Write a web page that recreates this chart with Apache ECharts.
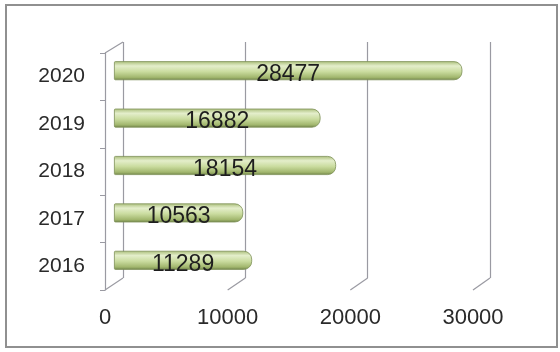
<!DOCTYPE html>
<html>
<head>
<meta charset="utf-8">
<script src="https://cdn.jsdelivr.net/npm/echarts@6/dist/echarts.min.js"></script>
<style>
  html, body { margin: 0; padding: 0; background: #fff; }
  #chart { width: 560px; height: 352px; }
</style>
</head>
<body>
<div id="chart"></div>
<script>
// data
const years = ['2016', '2017', '2018', '2019', '2020'];
const values = [11289, 10563, 18154, 16882, 28477];
const xTicks = [0, 10000, 20000, 30000];

const font = '"Liberation Sans", Arial, sans-serif';
const lineColor = '#9a9aa2';

const chart = echarts.init(document.getElementById('chart'));

// three grids fake the 3D depth: front plane (labels), middle (bars), back wall (gridlines)
const option = {
  backgroundColor: '#fff',
  animation: false,
  textStyle: { fontFamily: font },
  grid: [
    { left: 105, top: 53, width: 368, height: 237 },
    { left: 114, top: 47, width: 367, height: 237 },
    { left: 123, top: 42, width: 367, height: 236 }
  ],
  xAxis: [
    {
      gridIndex: 0, type: 'value', min: 0, max: 30000, interval: 10000,
      axisLine: { show: false }, axisTick: { show: false }, splitLine: { show: false },
      axisLabel: {
        fontSize: 22, color: '#2a2a2a', margin: 17, fontFamily: font,
        formatter: function (v) { return String(v); }
      }
    },
    {
      gridIndex: 1, type: 'value', min: 0, max: 30000, interval: 10000,
      show: false
    },
    {
      gridIndex: 2, type: 'value', min: 0, max: 30000, interval: 10000,
      axisLine: { show: false }, axisTick: { show: false }, axisLabel: { show: false },
      splitLine: { show: true, lineStyle: { color: lineColor, width: 1.2 } }
    }
  ],
  yAxis: [
    {
      gridIndex: 0, type: 'category', data: years,
      axisLine: { show: true, lineStyle: { color: lineColor, width: 1.2 } },
      axisTick: { show: true, length: 5, lineStyle: { color: lineColor } },
      axisLabel: { fontSize: 21, color: '#2a2a2a', margin: 20, fontFamily: font }
    },
    { gridIndex: 1, type: 'category', data: years, show: false },
    { gridIndex: 2, type: 'category', data: years, show: false }
  ],
  series: [
    {
      type: 'bar',
      xAxisIndex: 1,
      yAxisIndex: 1,
      data: values,
      barWidth: 19,
      itemStyle: {
        color: new echarts.graphic.LinearGradient(0, 0, 0, 1, [
          { offset: 0, color: '#a9bd78' },
          { offset: 0.25, color: '#e4eecb' },
          { offset: 0.55, color: '#cadc9f' },
          { offset: 0.85, color: '#a2b76e' },
          { offset: 1, color: '#6f8348' }
        ]),
        borderColor: '#7e9158',
        borderWidth: 0.8,
        borderRadius: [1, 8, 8, 1]
      },
      label: {
        show: true,
        position: 'inside',
        offset: [0, 4],
        fontSize: 23,
        color: '#1e1e1e',
        fontFamily: font
      }
    }
  ],
  graphic: [
    {
      type: 'rect',
      shape: { x: 6, y: 5, width: 551, height: 342 },
      style: { fill: 'none', stroke: '#909090', lineWidth: 2 },
      silent: true
    }
  ]
};

chart.setOption(option);

// diagonal edges joining the front plane to the back wall, placed via the axes
const links = [];
const yFrontTop = 53, yFrontBottom = 290, yBackTop = 42, yBackBottom = 278;
xTicks.forEach(function (v) {
  const xf = chart.convertToPixel({ xAxisIndex: 0 }, v);
  const xb = chart.convertToPixel({ xAxisIndex: 2 }, v);
  links.push({
    type: 'line', silent: true,
    shape: { x1: xf, y1: yFrontBottom, x2: xb, y2: yBackBottom },
    style: { stroke: lineColor, lineWidth: 1.2 }
  });
});
const x0f = chart.convertToPixel({ xAxisIndex: 0 }, 0);
const x0b = chart.convertToPixel({ xAxisIndex: 2 }, 0);
links.push({
  type: 'line', silent: true,
  shape: { x1: x0f, y1: yFrontTop, x2: x0b, y2: yBackTop },
  style: { stroke: lineColor, lineWidth: 1.2 }
});
chart.setOption({ graphic: option.graphic.concat(links) });
</script>
</body>
</html>
